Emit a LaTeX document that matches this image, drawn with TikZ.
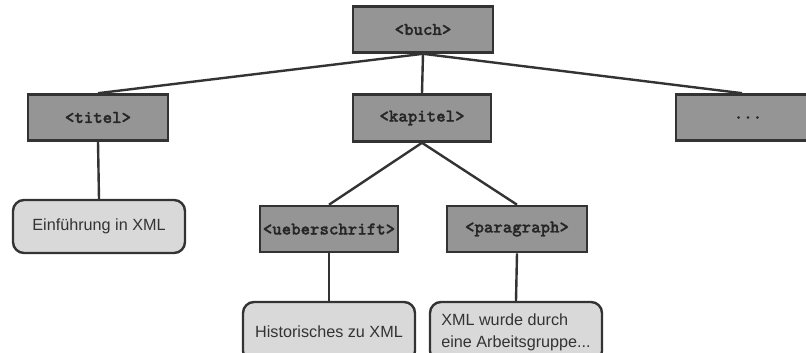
\documentclass[tikz,border=0pt]{standalone}
\usepackage{fontspec}
\setmainfont{Liberation Sans}
\newfontfamily\tagfont[FakeBold=1.3]{lmmonolt10-bold.otf}
\usetikzlibrary{backgrounds}
\definecolor{tagfill}{HTML}{959595}
\definecolor{textfill}{HTML}{D9D9D9}
\definecolor{edgegray}{HTML}{333333}
\tikzset{
  x=1pt, y=-1pt,
  tagbox/.style={draw=edgegray, line width=2.6pt, fill=tagfill, inner sep=0pt,
    minimum width=140pt, minimum height=46pt,
    font=\fontsize{18}{20}\tagfont, text=black!85},
  textbox/.style={draw=edgegray, line width=2.4pt, fill=textfill, rounded corners=11pt,
    inner sep=0pt, minimum width=172pt, minimum height=53pt, align=left,
    font=\fontsize{16.2}{22}\selectfont, text=black!80},
  link/.style={draw=edgegray, line width=2.4pt}
}
\begin{document}
\begin{tikzpicture}
\useasboundingbox (0,0) rectangle (806,353);
% element nodes
\node[tagbox] (buch) at (423,29.5) {<buch>};
\node[tagbox] (titel) at (98,117.5) {<titel>};
\node[tagbox, minimum height=47pt, minimum width=138pt] (kapitel) at (422,118) {<kapitel>};
\node[tagbox, minimum width=144pt] (more) at (748,117.5) {...};
\node[tagbox, minimum width=138pt] (ueber) at (329,229) {<ueberschrift>};
\node[tagbox] (para) at (517,229) {<paragraph>};
% text content nodes
\node[textbox] (einf) at (99,226.5) {Einführung in XML};
\node[textbox, minimum height=60pt] (hist) at (329,332) {Historisches zu XML};
\node[textbox, minimum height=60pt] (xmlw) at (516,332) {XML wurde durch\\eine Arbeitsgruppe...};
% connectors behind the boxes
\begin{scope}[on background layer]
\draw[link] (buch.south) -- (titel.north);
\draw[link] (buch.south) -- (kapitel.north);
\draw[link] (buch.south) -- ([xshift=-6pt]more.north);
\draw[link] (kapitel.south) -- (ueber.north);
\draw[link] (kapitel.south) -- (para.north);
\draw[link] (titel.south) -- (einf.north);
\draw[link] (ueber.south) -- (hist.north);
\draw[link] (para.south) -- (xmlw.north);
\end{scope}
\end{tikzpicture}
\end{document}
